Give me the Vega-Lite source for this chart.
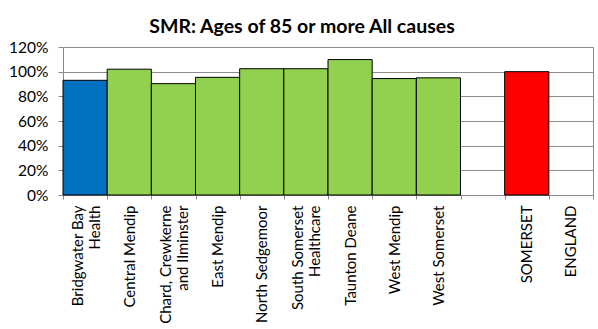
{
  "$schema": "https://vega.github.io/schema/vega-lite/v6.json",
  "autosize": {"type": "none"},
  "width": 530,
  "height": 148,
  "padding": {"left": 63, "top": 47, "right": 5, "bottom": 134},
  "background": "white",
  "title": {
    "text": "SMR: Ages of 85 or more All causes",
    "font": "Lato",
    "fontSize": 19.5,
    "fontWeight": "bold",
    "color": "#000000",
    "anchor": "middle",
    "dx": -26,
    "offset": 3
  },
  "data": {
    "values": [
      {"area": "Bridgwater Bay|Health", "smr": 0.93, "grp": "local"},
      {"area": "Central Mendip", "smr": 1.02, "grp": "other"},
      {"area": "Chard, Crewkerne|and Ilminster", "smr": 0.903, "grp": "other"},
      {"area": "East Mendip", "smr": 0.954, "grp": "other"},
      {"area": "North Sedgemoor", "smr": 1.024, "grp": "other"},
      {"area": "South Somerset|Healthcare", "smr": 1.024, "grp": "other"},
      {"area": "Taunton Deane", "smr": 1.098, "grp": "other"},
      {"area": "West Mendip", "smr": 0.944, "grp": "other"},
      {"area": "West Somerset", "smr": 0.95, "grp": "other"},
      {"area": " ", "smr": null, "grp": "other"},
      {"area": "SOMERSET", "smr": 1.0, "grp": "county"},
      {"area": "ENGLAND", "smr": null, "grp": "national"}
    ]
  },
  "mark": {"type": "bar", "stroke": "#000000", "strokeWidth": 1},
  "encoding": {
    "x": {
      "field": "area",
      "type": "nominal",
      "sort": null,
      "scale": {
        "domain": ["Bridgwater Bay|Health", "Central Mendip", "Chard, Crewkerne|and Ilminster", "East Mendip", "North Sedgemoor", "South Somerset|Healthcare", "Taunton Deane", "West Mendip", "West Somerset", " ", "SOMERSET", "ENGLAND"],
        "paddingInner": 0,
        "paddingOuter": 0
      },
      "axis": {
        "title": null,
        "labelAngle": -90,
        "labelAlign": "right",
        "labelBaseline": "middle",
        "labelFont": "Lato",
        "labelFontSize": 15,
        "labelColor": "#000000",
        "labelLineHeight": 17,
        "labelPadding": 6,
        "labelOffset": {"condition": {"test": "datum.value && indexof(datum.value, '|') >= 0", "value": -8}, "value": 0},
        "labelExpr": "datum.value ? split(datum.value, '|') : ''",
        "tickBand": "extent",
        "ticks": true,
        "tickSize": 4,
        "tickColor": "#888888",
        "domainColor": "#888888",
        "grid": false
      }
    },
    "y": {
      "field": "smr",
      "type": "quantitative",
      "scale": {"domain": [0, 1.2], "nice": false},
      "axis": {
        "title": null,
        "format": ".0%",
        "values": [0, 0.2, 0.4, 0.6, 0.8, 1.0, 1.2],
        "labelFont": "Lato",
        "labelFontSize": 15.5,
        "labelColor": "#000000",
        "labelPadding": 10,
        "tickSize": 5,
        "tickColor": "#888888",
        "domainColor": "#888888",
        "grid": true,
        "gridColor": "#8c8c8c",
        "gridWidth": 1
      }
    },
    "color": {
      "field": "grp",
      "type": "nominal",
      "scale": {"domain": ["local", "other", "county", "national"], "range": ["#0070C0", "#92D050", "#FF0000", "#FFFFFF"]},
      "legend": null
    }
  },
  "config": {
    "view": {"stroke": "#888888", "strokeWidth": 1}
  }
}
